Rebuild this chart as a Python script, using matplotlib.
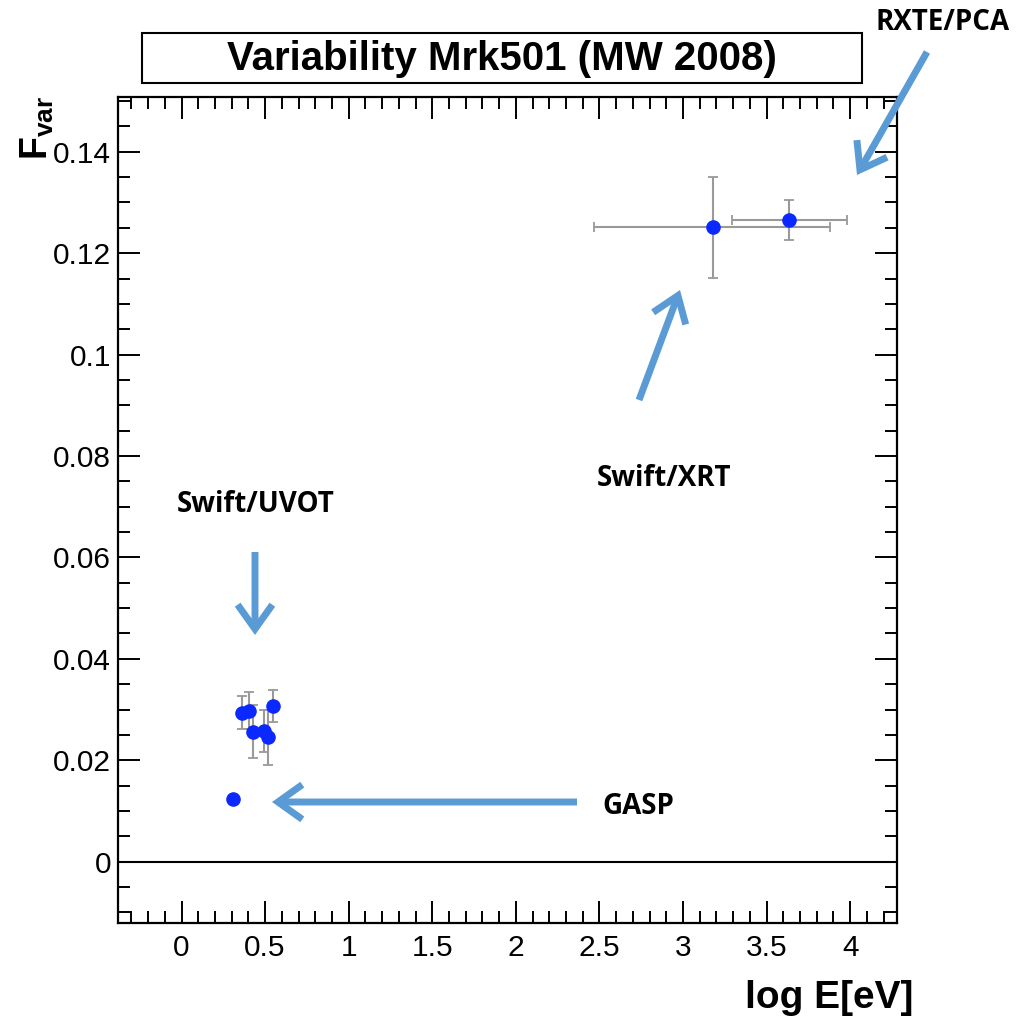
import matplotlib
matplotlib.use("Agg")
import matplotlib.pyplot as plt
from matplotlib.patches import Rectangle, FancyArrowPatch
from matplotlib.ticker import MultipleLocator
import numpy as np

# ---------------- data ----------------
log_e = [0.308, 0.360, 0.404, 0.430, 0.494, 0.520, 0.546, 3.177, 3.634]
f_var = [0.0124, 0.0294, 0.0298, 0.0256, 0.0258, 0.0245, 0.0307, 0.1251, 0.1265]
f_var_err = [0.0, 0.0033, 0.0037, 0.0052, 0.0041, 0.0054, 0.0031, 0.0100, 0.0040]
log_e_err_lo = [0, 0, 0, 0, 0, 0, 0, 0.707, 0.344]
log_e_err_hi = [0, 0, 0, 0, 0, 0, 0, 0.703, 0.346]

title = "Variability Mrk501 (MW 2008)"
labels = ["RXTE/PCA", "Swift/XRT", "Swift/UVOT", "GASP"]

plt.rcParams['font.family'] = ['Liberation Sans', 'DejaVu Sans']
plt.rcParams['mathtext.fontset'] = 'custom'
plt.rcParams['mathtext.bf'] = 'Liberation Sans:bold'
plt.rcParams['mathtext.rm'] = 'Liberation Sans:bold'

W, H = 1028, 1018
fig = plt.figure(figsize=(W / 100, H / 100), dpi=100)

def fp(x, y):
    return (x / W, 1 - y / H)

ax = fig.add_axes([118 / W, 1 - 923 / H, (897 - 118) / W, (923 - 97) / H])
ax.set_xlim(-0.38, 4.28)
ax.set_ylim(-0.0121, 0.1508)

x = np.array(log_e)
y = np.array(f_var)
ye = np.array(f_var_err)
xlo = np.array(log_e_err_lo)
xhi = np.array(log_e_err_hi)

has_err = ye > 0
ax.errorbar(x[has_err], y[has_err], yerr=ye[has_err],
            xerr=[xlo[has_err], xhi[has_err]],
            fmt='none', ecolor='#999999', elinewidth=1.5, capsize=3.5,
            capthick=1.3, zorder=2)
ax.plot(x, y, 'o', color='#0a28ff', markersize=10.5, markeredgewidth=0, zorder=3)

ax.axhline(0, color='black', lw=1.5, zorder=1)

ax.xaxis.set_major_locator(MultipleLocator(0.5))
ax.xaxis.set_minor_locator(MultipleLocator(0.1))
ax.yaxis.set_major_locator(MultipleLocator(0.02))
ax.yaxis.set_minor_locator(MultipleLocator(0.005))
ax.tick_params(which='both', direction='in', top=True, right=True, width=1.4)
ax.tick_params(which='major', length=16, labelsize=21.5)
ax.tick_params(which='minor', length=8.5)
ax.tick_params(axis='y', pad=5)
ax.tick_params(axis='x', pad=8)
ax.set_xticks([0, 0.5, 1, 1.5, 2, 2.5, 3, 3.5, 4])
ax.set_xticklabels(['0', '0.5', '1', '1.5', '2', '2.5', '3', '3.5', '4'])
ax.set_yticks([0, 0.02, 0.04, 0.06, 0.08, 0.1, 0.12, 0.14])
ax.set_yticklabels(['0', '0.02', '0.04', '0.06', '0.08', '0.1', '0.12', '0.14'])
for s in ax.spines.values():
    s.set_linewidth(1.6)

# title box
fig.patches.append(Rectangle(fp(142, 83), 720 / W, 50 / H, transform=fig.transFigure,
                             fill=False, edgecolor='black', lw=1.5))
fig.text(*fp(502, 59), title, ha='center', va='center', fontsize=29,
         fontweight='bold', family=['Liberation Sans Narrow', 'Liberation Sans'])

# axis labels
fig.text(*fp(37, 128), r'$\mathbf{F_{var}}$', rotation=90, ha='center', va='center',
         fontsize=27)
fig.text(*fp(913, 998), 'log E[eV]', ha='right', va='center', fontsize=28,
         fontweight='bold')

# annotations
acol = '#5b9bd5'
ann_font = ['Open Sans', 'DejaVu Sans']
fig.text(*fp(943, 22), labels[0], ha='center', va='center', fontsize=20,
         fontweight='bold', family=ann_font)
fig.text(*fp(664, 479), labels[1], ha='center', va='center', fontsize=20,
         fontweight='bold', family=ann_font)
fig.text(*fp(256, 504), labels[2], ha='center', va='center', fontsize=20,
         fontweight='bold', family=ann_font)
fig.text(*fp(638, 806), labels[3], ha='center', va='center', fontsize=20,
         fontweight='bold', family=ann_font)

arrows = [((927, 52), (857, 175)), ((639, 400), (680, 290)),
          ((255, 552), (255, 635)), ((577, 802), (272, 802))]
for (sx, sy), (tx, ty) in arrows:
    fig.patches.append(FancyArrowPatch(fp(sx, sy), fp(tx, ty), transform=fig.transFigure,
                                       arrowstyle='->,head_length=7,head_width=5',
                                       mutation_scale=2.5, color=acol, lw=5,
                                       capstyle='butt', joinstyle='miter',
                                       shrinkA=0, shrinkB=0))

fig.savefig('out.png', dpi=100)
